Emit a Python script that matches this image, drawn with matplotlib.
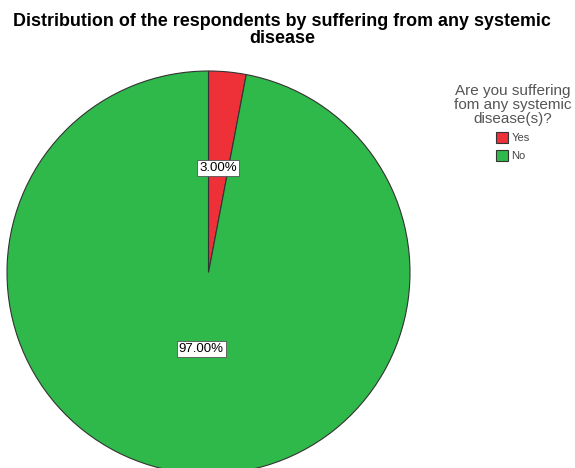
import matplotlib.pyplot as plt

# Respondents by systemic disease (percent)
categories = ['Yes', 'No']
shares = [3.0, 97.0]
colors = ['#ee3039', '#2fb94a']

fig = plt.figure(figsize=(5.75, 4.68), dpi=100)
fig.patch.set_facecolor('white')

# Pie takes up the left part of the figure, slightly cut off at the bottom
ax = fig.add_axes([7 / 575, -6 / 468, 403 / 575, 403 / 468])
wedges, texts, autotexts = ax.pie(
    shares, colors=colors, startangle=90, counterclock=False,
    autopct='%.2f%%', pctdistance=0.5,
    wedgeprops=dict(edgecolor='#333333', linewidth=0.8),
    textprops=dict(fontsize=9.5, family='Liberation Sans'))
ax.set_xlim(-1, 1)
ax.set_ylim(-1, 1)
ax.set_aspect('equal')

# Bring the big slice's label in towards the centre
for t, d in zip(autotexts, [0.52, 0.38]):
    x, y = t.get_position()
    r = (x ** 2 + y ** 2) ** 0.5
    t.set_position((x / r * d, y / r * d))
    t.set_bbox(dict(facecolor='white', edgecolor='#555555', linewidth=0.6, pad=1.5))

fig.text(0.491, 0.936, 'Distribution of the respondents by suffering from any systemic\ndisease',
         ha='center', va='center', fontsize=12.9, fontweight='bold',
         family='Liberation Sans', linespacing=1.0)

leg = fig.legend(wedges, categories, title='Are you suffering\nfom any systemic\ndisease(s)?',
                 loc='upper center', bbox_to_anchor=(0.892, 0.833), frameon=False,
                 prop=dict(family='Liberation Sans', size=8),
                 title_fontproperties=dict(family='Liberation Sans', size=11),
                 handlelength=1.1, handleheight=1.1,
                 handletextpad=0.25, labelspacing=0.6, borderpad=0)
leg.get_title().set_color('#555555')
leg.get_title().set_multialignment('center')
leg.get_title().set_linespacing(1.0)
for txt in leg.get_texts():
    txt.set_color('#444444')

fig.savefig('out.png', dpi=100)
